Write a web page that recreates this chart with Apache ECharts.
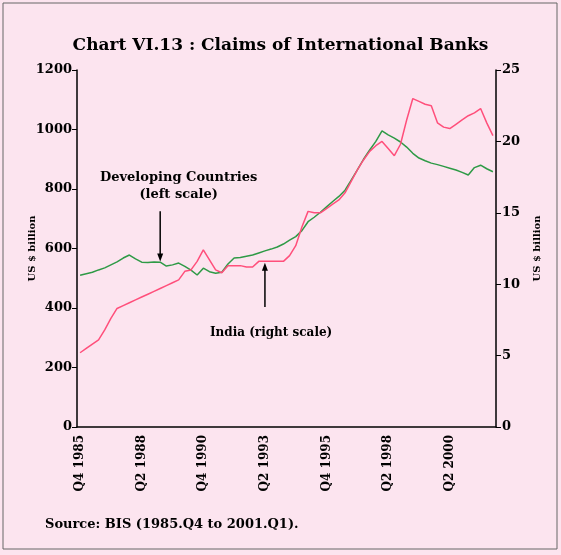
<!DOCTYPE html>
<html>
<head>
    <meta charset="utf-8">
    <title>Chart VI.13 : Claims of International Banks</title>
    <script src="https://cdn.jsdelivr.net/npm/echarts@6/dist/echarts.min.js"></script>
    <style>
        body{
            margin:0;
        }
        #chart{
            width:561px;
            height:555px;
        }
    </style>
</head>
<body>
    <div id="chart"></div>

    <script type="text/javascript">
    // quarterly categories, Q4 1985 onwards
    var quarters = [];
    var qYear = 1985, qNum = 4;
    for(var i = 0; i < 68; i++){
        quarters.push('Q' + qNum + ' ' + qYear);
        qNum++;
        if(qNum > 4){ qNum = 1; qYear++; }
    }

    // tick labels as printed on the chart (every 10th quarter)
    var tickLabels = ['Q4 1985','Q2 1988','Q4 1990','Q2 1993','Q4 1995','Q2 1998','Q2 2000'];

    // Developing Countries, US $ billion (left scale)
    var developing = [
        510, 515, 520, 528, 535, 545, 555, 568, 578, 565,
        554, 553, 555, 554, 541, 545, 551, 540, 527, 511,
        534, 522, 517, 520, 548, 568, 570, 574, 578, 585,
        592, 598, 605, 615, 628, 640, 660, 690, 705, 722,
        740, 758, 775, 796, 830, 864, 900, 931, 960, 995,
        982, 971, 958, 941, 920, 904, 895, 887, 882, 876,
        870, 864, 856, 847, 872, 880, 868, 858
    ];

    // India, US $ billion (right scale)
    var india = [
        5.2, 5.5, 5.8, 6.1, 6.8, 7.6, 8.3, 8.5, 8.7, 8.9,
        9.1, 9.3, 9.5, 9.7, 9.9, 10.1, 10.3, 10.9, 11.0, 11.6,
        12.4, 11.7, 11.0, 10.8, 11.3, 11.3, 11.3, 11.2, 11.2, 11.6,
        11.6, 11.6, 11.6, 11.6, 12.0, 12.7, 14.0, 15.1, 15.0, 15.0,
        15.3, 15.6, 15.9, 16.4, 17.2, 18.0, 18.7, 19.3, 19.7, 20.0,
        19.5, 19.0, 19.8, 21.5, 23.0, 22.8, 22.6, 22.5, 21.3, 21.0,
        20.9, 21.2, 21.5, 21.8, 22.0, 22.3, 21.3, 20.4
    ];

    var serif = '"DejaVu Serif", "Liberation Serif", serif';

    var myChart = echarts.init(document.getElementById('chart'));

    var option = {
        backgroundColor: '#fce4ef',
        animation: false,
        title: [
            {
                text: 'Chart VI.13 : Claims of International Banks',
                left: 'center',
                top: 32,
                textStyle: {fontFamily: serif, fontSize: 17, fontWeight: 'bold', color: '#000'}
            },
            {
                text: 'Source: BIS (1985.Q4 to 2001.Q1).',
                left: 40,
                top: 513,
                textStyle: {fontFamily: serif, fontSize: 13, fontWeight: 'bold', color: '#000'}
            }
        ],
        grid: {
            left: 77,
            right: 65,
            top: 70,
            bottom: 128
        },
        xAxis: {
            type: 'category',
            data: quarters,
            boundaryGap: true,
            axisLine: {lineStyle: {color: '#000', width: 1.5}},
            axisTick: {interval: 1, length: 6, lineStyle: {color: '#000'}},
            axisLabel: {
                interval: 0,
                rotate: 90,
                margin: 8,
                fontFamily: serif,
                fontSize: 12,
                fontWeight: 'bold',
                color: '#000',
                formatter: function(v, idx){
                    return idx % 10 === 0 ? tickLabels[idx / 10] : '';
                }
            },
            splitLine: {show: false}
        },
        yAxis: [
            {
                type: 'value',
                min: 0,
                max: 1200,
                interval: 200,
                name: 'US $ billion',
                nameLocation: 'middle',
                nameRotate: 90,
                nameGap: 40,
                nameMoveOverlap: false,
                nameTextStyle: {fontFamily: serif, fontSize: 10, fontWeight: 'bold', color: '#000'},
                axisLine: {show: true, lineStyle: {color: '#000', width: 1.5}},
                axisTick: {show: true, length: 5, lineStyle: {color: '#000'}},
                axisLabel: {
                    fontFamily: serif, fontSize: 13, fontWeight: 'bold', color: '#000', margin: 5,
                    formatter: function(v){ return String(v); }
                },
                splitLine: {show: false}
            },
            {
                type: 'value',
                min: 0,
                max: 25,
                interval: 5,
                position: 'right',
                name: 'US $ billion',
                nameLocation: 'middle',
                nameRotate: 90,
                nameGap: 36,
                nameTextStyle: {fontFamily: serif, fontSize: 10, fontWeight: 'bold', color: '#000'},
                axisLine: {show: true, lineStyle: {color: '#000', width: 1.5}},
                axisTick: {show: true, length: 5, lineStyle: {color: '#000'}},
                axisLabel: {fontFamily: serif, fontSize: 13, fontWeight: 'bold', color: '#000', margin: 6},
                splitLine: {show: false}
            }
        ],
        series: [
            {
                name: 'Developing Countries (left scale)',
                type: 'line',
                yAxisIndex: 0,
                data: developing,
                showSymbol: false,
                lineStyle: {color: '#2e9a46', width: 1.5},
                itemStyle: {color: '#2e9a46'}
            },
            {
                name: 'India (right scale)',
                type: 'line',
                yAxisIndex: 1,
                data: india,
                showSymbol: false,
                lineStyle: {color: '#ff4f7b', width: 1.5},
                itemStyle: {color: '#ff4f7b'}
            }
        ]
    };

    myChart.setOption(option);

    // annotations placed through the axes
    function arrow(from, to){
        var dir = to[1] > from[1] ? 1 : -1;
        return [
            {
                type: 'line',
                shape: {x1: from[0], y1: from[1], x2: to[0], y2: to[1] - dir * 6},
                style: {stroke: '#000', lineWidth: 1.5}
            },
            {
                type: 'polygon',
                shape: {points: [[to[0] - 3, to[1] - dir * 8], [to[0] + 3, to[1] - dir * 8], [to[0], to[1]]]},
                style: {fill: '#000'}
            }
        ];
    }

    var dcTop = myChart.convertToPixel({seriesIndex: 0}, [13, 725]);
    var dcTip = myChart.convertToPixel({seriesIndex: 0}, [13, 556]);
    var dcText = myChart.convertToPixel({seriesIndex: 0}, [16, 810]);
    var inBase = myChart.convertToPixel({seriesIndex: 1}, [30, 8.4]);
    var inTip = myChart.convertToPixel({seriesIndex: 1}, [30, 11.5]);
    var inText = myChart.convertToPixel({seriesIndex: 1}, [31, 6.6]);

    var graphics = [
        {
            type: 'rect',
            shape: {x: 3, y: 3, width: 554, height: 546},
            style: {fill: 'none', stroke: '#666', lineWidth: 1}
        },
        {
            type: 'text',
            x: dcText[0],
            y: dcText[1],
            style: {
                text: 'Developing Countries\n(left scale)',
                align: 'center',
                verticalAlign: 'middle',
                lineHeight: 17,
                font: 'bold 13px ' + serif,
                fill: '#000'
            }
        },
        {
            type: 'text',
            x: inText[0],
            y: inText[1],
            style: {
                text: 'India (right scale)',
                align: 'center',
                verticalAlign: 'middle',
                font: 'bold 12px ' + serif,
                fill: '#000'
            }
        }
    ].concat(arrow(dcTop, dcTip)).concat(arrow(inBase, inTip));

    myChart.setOption({graphic: graphics});
    </script>
</body>
</html>
